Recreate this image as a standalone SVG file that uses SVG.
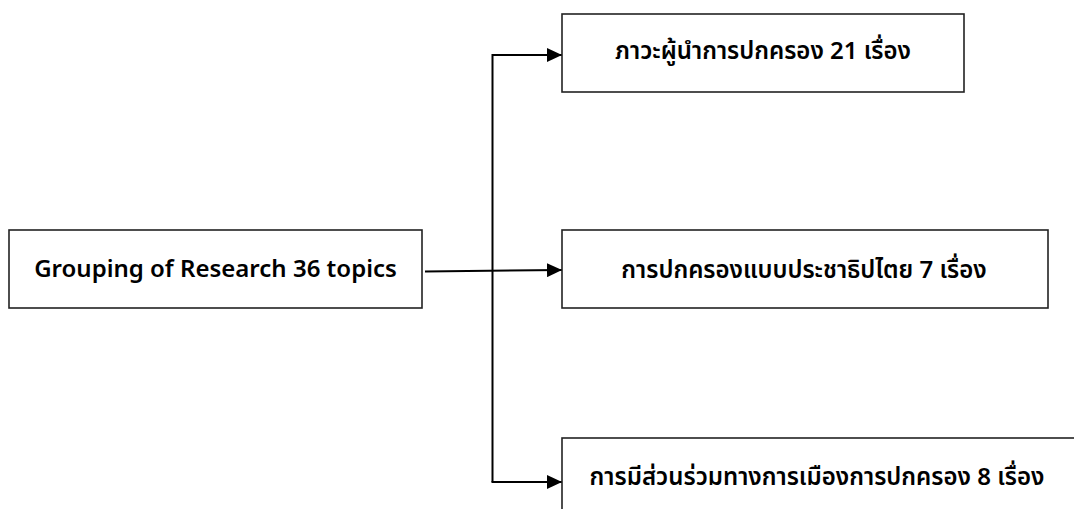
<svg xmlns="http://www.w3.org/2000/svg" width="1074" height="509" viewBox="0 0 1074 509">
<style>
.box{fill:#fff;stroke:#222;stroke-width:1.6}
.lbl{font-family:"Noto Sans","Noto Sans Thai","DejaVu Sans",sans-serif;font-size:24px;font-weight:600;fill:#000;text-anchor:middle}
.con{fill:none;stroke:#000;stroke-width:2}
</style>
<defs>
<marker id="ah" viewBox="0 0 15 14" refX="15" refY="7" markerWidth="15" markerHeight="14" markerUnits="userSpaceOnUse" orient="auto">
<path d="M0,0 L15,7 L0,14 Z" fill="#000"/>
</marker>
</defs>
<rect width="1074" height="509" fill="#fff"/>
<g id="connectors">
<path class="con" d="M425,271.5 L562,270" marker-end="url(#ah)"/>
<path class="con" d="M492.5,482 L492.5,55 L562,55" marker-end="url(#ah)"/>
<path class="con" d="M492.5,481 L492.5,482 L562,482" marker-end="url(#ah)"/>
</g>
<g id="node-root">
<rect class="box" x="9" y="230" width="413" height="78"/>
<text class="lbl" x="215.5" y="277">Grouping of Research 36 topics</text>
</g>
<g id="node-leadership">
<rect class="box" x="562" y="14" width="402" height="78"/>
<text class="lbl" x="763" y="59">ภาวะผู้นำการปกครอง 21 เรื่อง</text>
</g>
<g id="node-democracy">
<rect class="box" x="562" y="230" width="486" height="78"/>
<text class="lbl" x="804" y="278">การปกครองแบบประชาธิปไตย 7 เรื่อง</text>
</g>
<g id="node-participation">
<rect class="box" x="562" y="438" width="520" height="80"/>
<text class="lbl" x="817" y="485">การมีส่วนร่วมทางการเมืองการปกครอง 8 เรื่อง</text>
</g>
</svg>
